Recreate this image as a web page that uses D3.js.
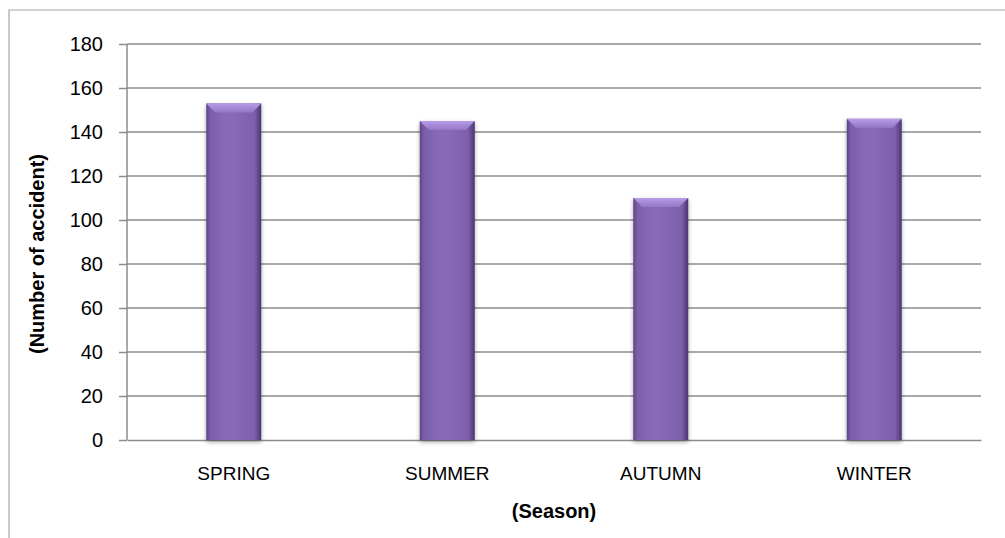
<!DOCTYPE html>
<html>
<head>
<meta charset="utf-8">
<script src="https://cdn.jsdelivr.net/npm/d3@7"></script>
<style>
  body { margin: 0; background: #fff; }
  svg { display: block; font-family: "Liberation Sans", Arial, sans-serif; }
</style>
</head>
<body>
<svg id="chart" width="1005" height="538"></svg>
<script>
// data
var seasons = ["SPRING", "SUMMER", "AUTUMN", "WINTER"];
var accidents = [153, 145, 110, 146];
var yTicks = [0, 20, 40, 60, 80, 100, 120, 140, 160, 180];

var svg = d3.select("#chart");
// plot box (note: "top" is taken by window.top, so prefix them)
var plotLeft = 127, plotRight = 981, plotTop = 44, plotBottom = 440;

var x = d3.scaleBand().domain(seasons).range([plotLeft, plotRight]).padding(0);
var y = d3.scaleLinear().domain([0, 180]).range([plotBottom, plotTop]);
var barW = 55;

// frame around the chart
svg.append("path")
  .attr("d", "M9,538 V10 H1005")
  .style("fill", "none")
  .style("stroke", "#a6a6a6")
  .style("stroke-width", "1.2px");

var defs = svg.append("defs");
var body = defs.append("linearGradient").attr("id", "body");
body.append("stop").attr("offset", "0%").attr("stop-color", "#5e4585");
body.append("stop").attr("offset", "8%").attr("stop-color", "#7c5fac");
body.append("stop").attr("offset", "40%").attr("stop-color", "#8a6bb8");
body.append("stop").attr("offset", "88%").attr("stop-color", "#7d60ab");
body.append("stop").attr("offset", "100%").attr("stop-color", "#4a3570");

var bevel = defs.append("linearGradient").attr("id", "bevel")
  .attr("x1", 0).attr("y1", 0).attr("x2", 0).attr("y2", 1);
bevel.append("stop").attr("offset", "0%").attr("stop-color", "#b89ce6");
bevel.append("stop").attr("offset", "100%").attr("stop-color", "#9476c6");

var shadow = defs.append("filter").attr("id", "shadow")
  .attr("x", "-20%").attr("y", "-5%").attr("width", "140%").attr("height", "115%");
shadow.append("feDropShadow").attr("dx", 0).attr("dy", 2)
  .attr("stdDeviation", 2).attr("flood-color", "#000").attr("flood-opacity", 0.35);

// gridlines
svg.append("g").selectAll("line")
  .data(yTicks.slice(1))
  .join("line")
  .attr("x1", plotLeft).attr("x2", plotRight)
  .attr("y1", function (d) { return y(d); })
  .attr("y2", function (d) { return y(d); })
  .style("stroke", "#8c8c8c")
  .style("stroke-width", "1.5px");

// y axis
var yAxis = d3.axisLeft(y).tickValues(yTicks).tickSize(8).tickPadding(16);
var gy = svg.append("g")
  .attr("transform", "translate(" + plotLeft + ",0)")
  .call(yAxis);
gy.selectAll("line, path").style("stroke", "#8c8c8c").style("stroke-width", "1.5px");
gy.select(".domain").attr("d", "M0," + plotTop + "V" + plotBottom);
gy.selectAll("text").style("font-size", "20px").style("fill", "#000");

// x axis
var xAxis = d3.axisBottom(x).tickSize(0).tickPadding(27);
var gx = svg.append("g")
  .attr("transform", "translate(0," + plotBottom + ")")
  .call(xAxis);
gx.select(".domain").style("stroke", "#8c8c8c").style("stroke-width", "1.5px");
gx.selectAll("text").style("font-size", "19px").style("fill", "#000");

// bars
var bars = svg.append("g").selectAll("g")
  .data(seasons)
  .join("g")
  .attr("transform", function (d) {
    return "translate(" + (x(d) + x.bandwidth() / 2 - barW / 2) + ",0)";
  });

bars.append("rect")
  .attr("y", function (d, i) { return y(accidents[i]); })
  .attr("width", barW)
  .attr("height", function (d, i) { return plotBottom - y(accidents[i]); })
  .style("fill", "url(#body)")
  .attr("filter", "url(#shadow)");

bars.append("path")
  .attr("d", function (d, i) {
    var t = y(accidents[i]), b = 9;
    return "M0," + t + "H" + barW + "L" + (barW - b) + "," + (t + b) +
      "H" + b + "Z";
  })
  .style("fill", "url(#bevel)");

// axis titles
svg.append("text")
  .attr("x", (plotLeft + plotRight) / 2)
  .attr("y", 518)
  .attr("text-anchor", "middle")
  .style("font-size", "20px")
  .style("font-weight", "bold")
  .text("(Season)");

svg.append("text")
  .attr("transform", "translate(44,254) rotate(-90)")
  .attr("text-anchor", "middle")
  .style("font-size", "20px")
  .style("font-weight", "bold")
  .text("(Number of accident)");
</script>
</body>
</html>
